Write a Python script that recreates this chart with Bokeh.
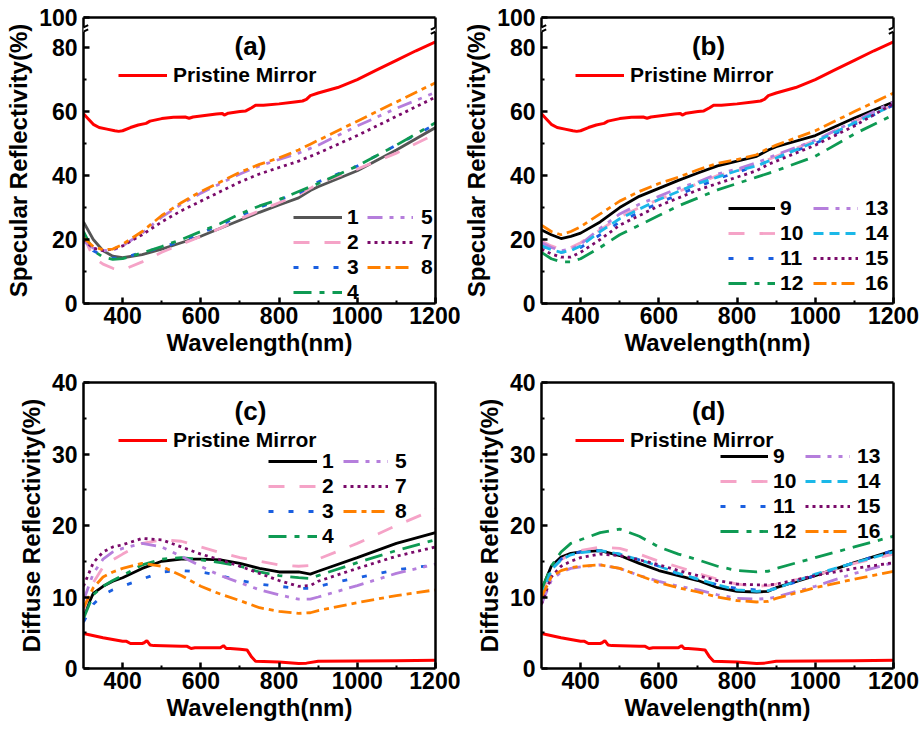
from bokeh.plotting import figure
from bokeh.layouts import row, column
from bokeh.models import (Legend, LegendItem, Label, FixedTicker, LinearAxis, Range1d,
                          CustomJSTickFormatter, BoxAnnotation, Arrow)
from bokeh.core.properties import value
from bokeh.embed import file_html
from bokeh.resources import INLINE

FONT = "Liberation Sans"

# ---------------- data ----------------
WL = [300, 325, 350, 375, 400, 450, 500, 550, 600, 650, 700, 750, 800, 850, 880, 900, 1000, 1100, 1200]

PRISTINE_SPEC_WL = [300, 310, 325, 340, 360, 380, 390, 400, 420, 440, 460, 470, 500, 530, 560, 570, 580, 600,
                    640, 655, 660, 670, 700, 715, 730, 740, 760, 800, 840, 860, 870, 880, 900, 950, 1000,
                    1050, 1100, 1150, 1200]
PRISTINE_SPEC = [59.3, 58.0, 56.0, 55.0, 54.5, 54.0, 53.8, 54.0, 55.0, 55.8, 56.3, 57.0, 57.8, 58.2, 58.3, 57.9,
                 58.3, 58.6, 59.2, 59.4, 58.9, 59.5, 60.0, 60.2, 61.2, 62.0, 62.0, 62.4, 63.0, 63.3, 63.8, 65.0,
                 65.8, 67.5, 70.0, 73.0, 76.0, 79.0, 81.8]

PRISTINE_DIFF_WL = [300, 350, 400, 410, 420, 450, 455, 462, 470, 480, 550, 565, 575, 585, 600, 650, 658, 665,
                    675, 700, 718, 730, 740, 800, 850, 870, 900, 1000, 1100, 1200]
PRISTINE_DIFF = [4.9, 4.3, 3.8, 3.8, 3.5, 3.5, 3.6, 3.9, 3.3, 3.2, 3.1, 3.1, 2.8, 2.9, 2.9, 2.9, 3.2, 2.8,
                 2.8, 2.7, 2.6, 1.6, 1.0, 0.9, 0.7, 0.75, 1.0, 1.05, 1.1, 1.15]

# specular reflectivity, panel (a)
SPEC_1 = [25.5, 20.0, 16.5, 14.8, 14.3, 15.3, 17.0, 19.0, 21.0, 23.5, 26.0, 28.5, 30.8, 33.0, 35.3, 36.5, 41.5, 48.0, 55.0]
SPEC_2 = [21.0, 14.5, 12.3, 11.0, 10.5, 13.0, 16.0, 18.5, 21.0, 23.5, 26.5, 29.0, 31.5, 34.0, 36.0, 37.5, 42.0, 47.0, 53.0]
SPEC_3 = [22.0, 16.5, 14.8, 14.2, 14.2, 16.0, 17.5, 19.5, 22.0, 24.5, 27.5, 30.0, 32.5, 34.5, 36.5, 38.0, 43.0, 49.5, 56.0]
SPEC_4 = [22.5, 16.5, 14.5, 13.8, 14.0, 15.8, 17.8, 20.0, 22.5, 25.0, 28.0, 30.5, 32.5, 35.0, 36.5, 37.5, 43.0, 49.5, 56.5]
SPEC_5 = [19.5, 17.3, 16.5, 16.7, 18.0, 22.0, 27.0, 31.0, 34.5, 37.5, 40.5, 43.0, 45.0, 47.0, 48.5, 49.5, 55.5, 61.0, 66.0]
SPEC_7 = [20.0, 17.3, 16.5, 17.0, 18.0, 21.5, 25.5, 29.0, 32.0, 35.0, 38.0, 40.5, 42.5, 44.5, 46.0, 47.0, 52.5, 58.5, 64.5]
SPEC_8 = [20.5, 17.8, 16.8, 17.0, 18.5, 22.5, 27.5, 31.5, 35.0, 38.0, 41.0, 43.5, 45.5, 48.0, 49.8, 51.0, 57.0, 63.0, 69.0]
# specular reflectivity, panel (b)
SPEC_9 = [23.0, 21.5, 20.3, 21.0, 22.0, 25.5, 30.0, 33.5, 36.0, 38.5, 40.8, 43.0, 44.5, 46.0, 48.0, 49.0, 52.5, 58.0, 63.0]
SPEC_10 = [19.5, 18.0, 17.0, 17.5, 19.0, 23.0, 27.0, 30.0, 32.5, 35.0, 37.5, 40.0, 41.5, 43.5, 45.0, 46.0, 51.0, 57.0, 62.0]
SPEC_11 = [18.0, 16.8, 16.0, 16.5, 17.5, 21.5, 25.5, 28.5, 31.5, 34.0, 36.5, 39.0, 41.0, 43.0, 44.5, 45.5, 50.0, 56.0, 62.0]
SPEC_12 = [16.0, 14.0, 13.0, 13.0, 14.0, 17.5, 21.5, 24.5, 27.5, 30.5, 33.0, 35.5, 37.5, 39.5, 40.7, 41.5, 46.0, 53.0, 59.0]
SPEC_13 = [19.0, 17.5, 16.5, 17.0, 18.5, 23.5, 28.0, 31.0, 33.5, 36.0, 38.0, 40.5, 42.0, 44.0, 45.5, 46.5, 51.0, 57.0, 63.0]
SPEC_14 = [18.0, 16.8, 16.0, 16.5, 18.0, 22.5, 26.5, 29.5, 32.5, 35.0, 37.5, 39.5, 41.5, 43.0, 44.5, 45.5, 50.5, 56.5, 62.0]
SPEC_15 = [17.0, 15.5, 14.5, 14.5, 16.0, 20.0, 24.5, 27.5, 30.5, 33.0, 35.5, 37.5, 39.5, 41.5, 43.5, 44.5, 49.5, 55.5, 62.5]
SPEC_16 = [24.5, 22.5, 21.5, 22.5, 24.0, 28.0, 32.0, 35.0, 37.5, 39.5, 41.8, 43.8, 45.0, 46.5, 48.5, 49.5, 54.0, 60.0, 65.8]

# diffuse reflectivity, panel (c)
DIFF_1 = [7.5, 10.5, 11.5, 12.2, 12.7, 14.0, 15.0, 15.3, 15.3, 15.2, 14.7, 14.0, 13.5, 13.5, 13.2, 13.6, 15.5, 17.5, 19.0]
DIFF_2 = [8.0, 12.0, 14.2, 15.2, 16.0, 17.5, 18.0, 17.8, 17.0, 16.2, 15.5, 15.0, 14.5, 14.3, 14.4, 15.3, 17.5, 20.0, 22.3]
DIFF_3 = [6.5, 9.0, 10.3, 11.0, 11.5, 12.5, 13.5, 13.7, 13.5, 13.0, 12.3, 11.8, 11.5, 11.2, 11.2, 11.5, 12.7, 13.8, 14.5]
DIFF_4 = [7.0, 10.3, 11.5, 12.3, 13.0, 14.5, 15.3, 15.5, 15.2, 14.8, 14.3, 13.5, 13.0, 12.7, 12.6, 13.0, 14.8, 16.5, 18.0]
DIFF_5 = [9.5, 13.3, 15.3, 16.3, 16.8, 17.5, 17.0, 15.7, 14.3, 13.0, 12.0, 11.0, 10.3, 9.7, 9.7, 10.0, 11.6, 13.3, 14.6]
DIFF_7 = [11.5, 14.8, 16.3, 17.0, 17.3, 18.2, 18.0, 17.0, 16.0, 15.2, 14.3, 13.3, 12.3, 11.5, 11.6, 12.2, 14.0, 15.7, 17.0]
DIFF_8 = [8.5, 11.3, 12.8, 13.5, 14.0, 14.7, 14.3, 13.0, 11.5, 10.4, 9.5, 8.5, 8.0, 7.7, 7.8, 8.1, 9.2, 10.2, 11.0]
# diffuse reflectivity, panel (d)
DIFF_9 = [11.0, 14.3, 15.6, 16.1, 16.3, 16.5, 15.8, 14.7, 13.7, 13.0, 12.3, 11.3, 10.8, 10.7, 10.8, 11.3, 13.0, 14.8, 16.5]
DIFF_10 = [10.5, 13.8, 15.2, 16.0, 16.5, 17.0, 16.8, 16.0, 15.0, 14.2, 13.3, 12.5, 11.8, 11.5, 11.6, 11.8, 13.0, 14.7, 16.0]
DIFF_11 = [10.0, 13.8, 15.3, 16.0, 16.3, 16.5, 16.0, 15.2, 14.3, 13.2, 12.5, 11.7, 11.2, 11.0, 11.0, 11.2, 13.0, 14.8, 16.5]
DIFF_12 = [11.0, 14.3, 16.3, 17.5, 18.0, 19.0, 19.5, 18.5, 17.0, 16.0, 15.2, 14.3, 13.7, 13.5, 13.6, 14.0, 15.5, 17.0, 18.5]
DIFF_13 = [9.0, 12.3, 13.5, 14.0, 14.2, 14.5, 14.0, 13.0, 12.2, 11.5, 11.0, 10.3, 9.8, 9.7, 9.8, 10.0, 11.5, 13.3, 14.8]
DIFF_14 = [10.0, 13.8, 15.2, 15.9, 16.2, 16.5, 16.0, 15.2, 14.3, 13.3, 12.5, 11.7, 11.0, 10.8, 10.9, 11.2, 13.2, 14.8, 16.3]
DIFF_15 = [9.0, 12.8, 14.3, 15.0, 15.5, 16.0, 15.8, 15.2, 14.5, 13.7, 13.0, 12.3, 11.8, 11.7, 11.7, 11.8, 13.0, 14.0, 14.8]
DIFF_16 = [10.0, 12.8, 13.7, 14.1, 14.3, 14.5, 14.0, 13.0, 12.0, 11.3, 10.7, 10.0, 9.5, 9.3, 9.4, 9.8, 11.3, 12.5, 13.6]

SAMPLES_A = ["1", "2", "3", "4", "5", "7", "8"]
SAMPLES_B = ["9", "10", "11", "12", "13", "14", "15", "16"]
SPEC_A = [SPEC_1, SPEC_2, SPEC_3, SPEC_4, SPEC_5, SPEC_7, SPEC_8]
SPEC_B = [SPEC_9, SPEC_10, SPEC_11, SPEC_12, SPEC_13, SPEC_14, SPEC_15, SPEC_16]
DIFF_A = [DIFF_1, DIFF_2, DIFF_3, DIFF_4, DIFF_5, DIFF_7, DIFF_8]
DIFF_B = [DIFF_9, DIFF_10, DIFF_11, DIFF_12, DIFF_13, DIFF_14, DIFF_15, DIFF_16]

# ---------------- styles ----------------
RED = "#FF0000"
STYLE = {
    "1": ("#000000", "solid"), "9": ("#000000", "solid"),
    "2": ("#F5A3C7", "16 15"), "10": ("#F5A3C7", "16 15"),
    "3": ("#1A5FE0", "5 15"), "11": ("#1A5FE0", "5 15"),
    "4": ("#0E9A53", "18 8 5 8"), "12": ("#0E9A53", "18 8 5 8"),
    "5": ("#B57EDC", "15 7 4 7 4 7"), "13": ("#B57EDC", "15 7 4 7 4 7"),
    "14": ("#1BB8E8", "10 6"),
    "7": ("#7A0A6A", "3 4"), "15": ("#7A0A6A", "3 4"),
    "8": ("#FF8000", "13 5 5 5"), "16": ("#FF8000", "13 5 5 5"),
}
LW = 2.8


def style_axis(ax):
    ax.axis_line_color = "black"
    ax.axis_line_width = 2.5
    ax.major_tick_line_color = "black"
    ax.minor_tick_line_color = "black"
    ax.major_tick_line_width = 2.5
    ax.minor_tick_line_width = 2
    ax.major_tick_in = 6
    ax.major_tick_out = 0
    ax.minor_tick_in = 3
    ax.minor_tick_out = 0
    ax.major_label_text_color = "black"
    ax.axis_label_text_color = "black"
    ax.major_label_text_font = FONT
    ax.major_label_text_font_style = "bold"
    ax.major_label_text_font_size = "23px"
    ax.axis_label_text_font = FONT
    ax.axis_label_text_font_style = "bold"
    ax.axis_label_text_font_size = "24px"


def make_fig(width, left, ylabel, yend, yticks, yminor, broken):
    p = figure(width=width, height=365, output_backend="svg", toolbar_location=None, tools="",
               x_range=Range1d(300, 1200), y_range=Range1d(0, yend),
               min_border_left=left, min_border_right=width - left - 352,
               min_border_top=17, min_border_bottom=62,
               x_axis_label="Wavelength(nm)", y_axis_label=ylabel)
    p.outline_line_color = None
    p.grid.visible = False
    p.background_fill_color = "white"
    p.border_fill_color = "white"
    p.xaxis.ticker = FixedTicker(ticks=[400, 600, 800, 1000, 1200], minor_ticks=[500, 700, 900, 1100])
    p.yaxis.ticker = FixedTicker(ticks=yticks, minor_ticks=yminor)
    if broken:
        p.yaxis.formatter = CustomJSTickFormatter(code="return tick > 85 ? '100' : tick.toFixed(0);")
    style_axis(p.xaxis[0])
    style_axis(p.yaxis[0])
    p.xaxis.major_label_standoff = 3
    p.xaxis.axis_label_standoff = 2
    p.yaxis.major_label_standoff = 6
    p.yaxis.axis_label_standoff = 4
    for place in ("right", "above"):
        ax = LinearAxis(ticker=FixedTicker(ticks=[]), axis_line_width=2.5, axis_line_color="black",
                        major_label_text_font_size="0px")
        p.add_layout(ax, place)
    if broken:
        for xc in (300, 1200):
            p.add_layout(BoxAnnotation(left=xc - 14, right=xc + 14, bottom=84.9, top=86.3,
                                       fill_color="white", fill_alpha=1.0, line_color=None))
            for dy in (0.0, 1.3):
                p.add_layout(Arrow(x_start=xc - 12, y_start=84.3 + dy, x_end=xc + 12, y_end=85.7 + dy,
                                   end=None, line_width=2, line_color="black"))
    return p


def legend(p, items, x, y, gw, standoff):
    leg = Legend(items=[LegendItem(label=value(l), renderers=[r]) for l, r in items],
                 location=(x, y), orientation="vertical", padding=0, margin=0, spacing=1,
                 glyph_width=gw, glyph_height=20, label_height=20, label_standoff=standoff,
                 border_line_color=None, background_fill_alpha=0, label_text_color="black",
                 label_text_font=FONT, label_text_font_style="bold", label_text_font_size="21px")
    p.add_layout(leg)


def panel_label(p, text, y):
    p.add_layout(Label(x=727, y=y, text=text, text_font=FONT, text_font_style="bold", text_color="black",
                       text_font_size="26px", text_align="center", text_baseline="middle"))


def build(width, left, ylabel, yend, yticks, yminor, broken, samples, series, pwl, pvals,
          first_color, label, label_y, leg_cfg):
    p = make_fig(width, left, ylabel, yend, yticks, yminor, broken)
    rends = []
    for i, (s, ys) in enumerate(zip(samples, series)):
        color, dash = STYLE[s]
        if i == 0 and first_color is not None:
            color = first_color
        r = p.line(WL, ys, line_color=color, line_dash=dash, line_width=LW)
        rends.append((s, r))
    rp = p.line(pwl, pvals, line_color=RED, line_width=3)
    (px, py), (c1x, c1y, c1w, c1s), (c2x, c2y, c2w, c2s), n1 = leg_cfg
    legend(p, [("Pristine Mirror", rp)], px, py, 49, 6)
    legend(p, rends[:n1], c1x, c1y, c1w, c1s)
    legend(p, rends[n1:], c2x, c2y, c2w, c2s)
    panel_label(p, label, label_y)
    return p


SPEC_TICKS = [0, 20, 40, 60, 80, 89.4]
SPEC_MINOR = [10, 30, 50, 70]
DIFF_TICKS = [0, 10, 20, 30, 40]
DIFF_MINOR = [5, 15, 25, 35]

pa = build(460, 83, "Specular Reflectivity(%)", 89.4, SPEC_TICKS, SPEC_MINOR, True,
           SAMPLES_A, SPEC_A, PRISTINE_SPEC_WL, PRISTINE_SPEC, "#555555", "(a)", 80.5,
           ((35, 216), (210, -1, 49, 5), (284, 24, 46, 8), 4))
pb = build(461, 81, "Specular Reflectivity(%)", 89.4, SPEC_TICKS, SPEC_MINOR, True,
           SAMPLES_B, SPEC_B, PRISTINE_SPEC_WL, PRISTINE_SPEC, None, "(b)", 80.5,
           ((34, 216), (187, 8, 47, 5), (272, 8, 45, 7), 4))
pc = build(460, 83, "Diffuse Reflectivity(%)", 40, DIFF_TICKS, DIFF_MINOR, False,
           SAMPLES_A, DIFF_A, PRISTINE_DIFF_WL, PRISTINE_DIFF, None, "(c)", 36,
           ((35, 216), (185, 120, 49, 5), (260, 145, 45, 7), 4))
pd = build(461, 81, "Diffuse Reflectivity(%)", 40, DIFF_TICKS, DIFF_MINOR, False,
           SAMPLES_B, DIFF_B, PRISTINE_DIFF_WL, PRISTINE_DIFF, None, "(d)", 36,
           ((34, 216), (179, 125, 48, 5), (264, 125, 45, 7), 4))

layout = column(row(pa, pb), row(pc, pd))
open("out.html", "w").write(file_html(layout, INLINE))
